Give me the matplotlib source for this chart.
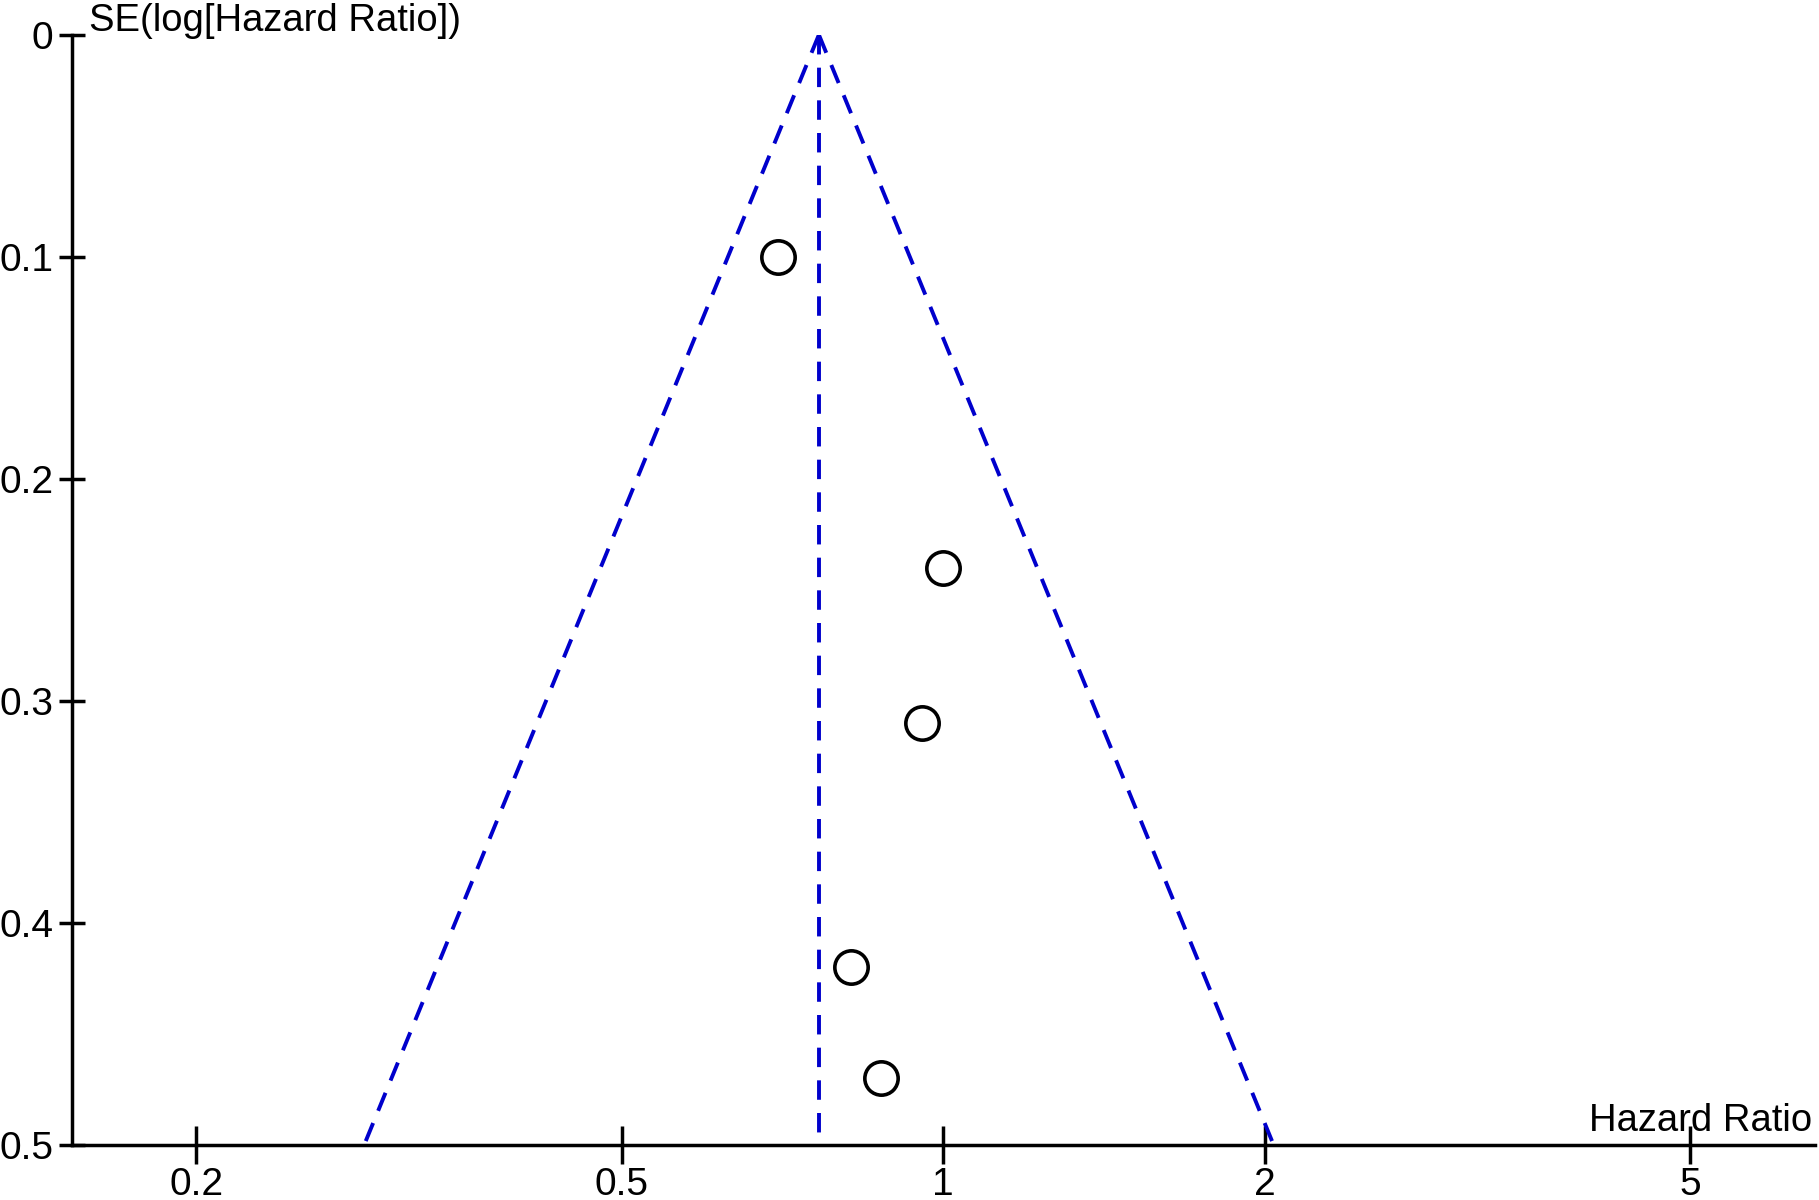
import numpy as np
import matplotlib
matplotlib.use('Agg')
from matplotlib import pyplot as plt

# study estimates
hazard_ratio = [0.70, 1.00, 0.955, 0.82, 0.875]
se_log_hr = [0.10, 0.24, 0.31, 0.42, 0.47]
pooled_hr = 0.765
se_max = 0.5
x_ticks = [0.2, 0.5, 1, 2, 5]
x_tick_labels = ['0.2', '0.5', '1', '2', '5']
y_ticks = [0, 0.1, 0.2, 0.3, 0.4, 0.5]
y_tick_labels = ['0', '0.1', '0.2', '0.3', '0.4', '0.5']

plt.rcParams['font.family'] = ['Liberation Sans', 'DejaVu Sans']

fig = plt.figure(figsize=(18.19, 12), dpi=100)
ax = fig.add_axes([0.0396, 0.0458, 0.9584, 0.9252])

blue = '#0000cc'
dash = [5, 3.4]
lo = pooled_hr * np.exp(-1.96 * se_max)
hi = pooled_hr * np.exp(1.96 * se_max)
l1, = ax.plot([pooled_hr, lo], [0, se_max], c=blue, lw=2.8)
l2, = ax.plot([pooled_hr, hi], [0, se_max], c=blue, lw=2.8)
l3, = ax.plot([pooled_hr, pooled_hr], [0, se_max], c=blue, lw=2.8)
for ln in (l1, l2, l3):
    ln.set_dashes(dash)

ax.plot(hazard_ratio, se_log_hr, 'o', ms=24, mfc='white', mec='black', mew=2.6,
        linestyle='none', zorder=5)

ax.set_xscale('log')
ax.set_xlim(0.153, 6.55)
ax.set_ylim(se_max, 0)
ax.set_xticks(x_ticks)
ax.set_xticklabels(x_tick_labels)
ax.minorticks_off()
ax.set_yticks(y_ticks)
ax.set_yticklabels(y_tick_labels)

for s in ('top', 'right'):
    ax.spines[s].set_visible(False)
for s in ('left', 'bottom'):
    ax.spines[s].set_linewidth(2.5)

ax.tick_params(axis='x', direction='inout', length=27, width=2.5, labelsize=28, pad=2)
ax.tick_params(axis='y', direction='inout', length=19, width=2.5, labelsize=28, pad=4)

ax.annotate('SE(log[Hazard Ratio])', xy=(0, 1), xycoords='axes fraction',
            xytext=(12, 3), textcoords='offset points', ha='left', va='baseline',
            fontsize=27.5)
ax.annotate('Hazard Ratio', xy=(1, 0), xycoords='axes fraction',
            xytext=(-2, 10), textcoords='offset points', ha='right', va='baseline',
            fontsize=27.5)

plt.savefig('out.png', dpi=100)
